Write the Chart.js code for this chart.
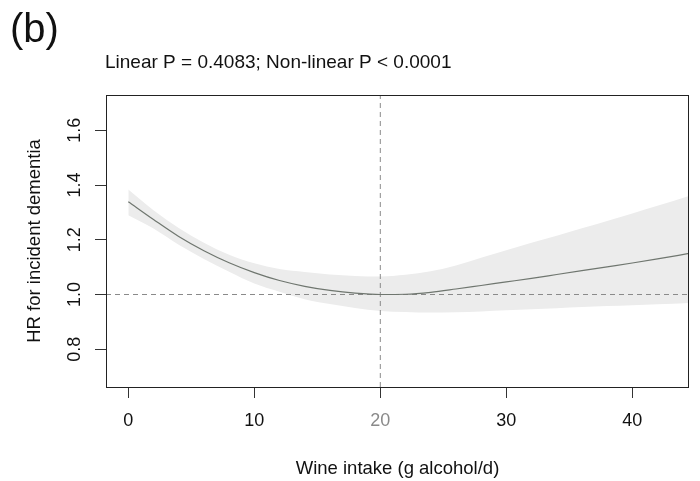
<!DOCTYPE html>
<html>
<head>
<meta charset="utf-8">
<script src="https://cdn.jsdelivr.net/npm/chart.js@4.4.1/dist/chart.umd.min.js"></script>
<style>
  html, body { margin: 0; padding: 0; background: #fff; }
  canvas { display: block; }
</style>
</head>
<body>
<canvas id="hrChart" width="700" height="481"></canvas>
<script>
// spline HR for incident dementia by wine intake, with 95% CI
const intake  = [0, 2, 4, 6, 8, 10, 12, 14, 16, 18, 20, 22, 24, 26, 28, 30, 32, 34, 36, 38, 40, 42, 44.5];
const hr      = [1.339, 1.274, 1.212, 1.160, 1.116, 1.080, 1.051, 1.030, 1.015, 1.005, 1.000, 1.001, 1.008, 1.020, 1.033, 1.046, 1.059, 1.073, 1.087, 1.101, 1.115, 1.130, 1.150];
const hrUpper = [1.384, 1.308, 1.243, 1.189, 1.145, 1.114, 1.093, 1.082, 1.073, 1.068, 1.066, 1.072, 1.085, 1.106, 1.134, 1.162, 1.189, 1.215, 1.242, 1.269, 1.296, 1.324, 1.360];
const hrLower = [1.290, 1.241, 1.182, 1.130, 1.083, 1.040, 1.010, 0.983, 0.965, 0.951, 0.940, 0.936, 0.934, 0.935, 0.938, 0.942, 0.946, 0.950, 0.954, 0.958, 0.961, 0.964, 0.969];

const xTicks = [0, 10, 20, 30, 40];
const yTicks = [0.8, 1.0, 1.2, 1.4, 1.6];
const refIntake = 20;
const refHR = 1;
const xRange = [-1.77, 44.5];
const yRange = [0.662, 1.729];

const fontFamily = "'Liberation Sans', Arial, Helvetica, sans-serif";
const toPoints = ys => intake.map((x, i) => ({ x: x, y: ys[i] }));

// box around the plot region + panel letter and p-values
const framePlugin = {
    id: 'frame',
    afterDraw(chart) {
        const { ctx, chartArea: a } = chart;
        ctx.save();
        ctx.strokeStyle = '#222';
        ctx.lineWidth = 1;
        ctx.strokeRect(a.left + 0.5, a.top + 0.5, a.right - a.left - 1, a.bottom - a.top);
        ctx.fillStyle = '#111';
        ctx.textBaseline = 'alphabetic';
        ctx.font = '40px ' + fontFamily;
        ctx.fillText('(b)', 10, 42);
        ctx.font = '19px ' + fontFamily;
        ctx.fillText('Linear P = 0.4083; Non-linear P < 0.0001', 105, 68);
        ctx.restore();
    }
};

const ctx = document.getElementById('hrChart').getContext('2d');

new Chart(ctx, {
    type: 'scatter',
    data: {
        datasets: [
            {
                label: 'HR',
                data: toPoints(hr),
                showLine: true,
                borderColor: '#6f766f',
                borderWidth: 1.2,
                pointRadius: 0,
                cubicInterpolationMode: 'monotone'
            },
            {
                label: 'HR = 1',
                data: [{ x: xRange[0], y: refHR }, { x: xRange[1], y: refHR }],
                showLine: true,
                borderColor: '#8a8a8a',
                borderWidth: 1,
                borderDash: [5, 4],
                pointRadius: 0
            },
            {
                label: 'reference intake',
                data: [{ x: refIntake, y: yRange[0] }, { x: refIntake, y: yRange[1] }],
                showLine: true,
                borderColor: '#8a8a8a',
                borderWidth: 1,
                borderDash: [5, 4],
                pointRadius: 0
            },
            {
                label: 'upper CI',
                data: toPoints(hrUpper),
                showLine: true,
                borderWidth: 0,
                borderColor: 'rgba(0,0,0,0)',
                backgroundColor: '#ececec',
                pointRadius: 0,
                cubicInterpolationMode: 'monotone',
                fill: '+1'
            },
            {
                label: 'lower CI',
                data: toPoints(hrLower),
                showLine: true,
                borderWidth: 0,
                borderColor: 'rgba(0,0,0,0)',
                pointRadius: 0,
                cubicInterpolationMode: 'monotone',
                fill: false
            }
        ]
    },
    options: {
        responsive: false,
        animation: false,
        layout: { padding: { left: 0, top: 95, right: 11, bottom: 0 } },
        plugins: {
            legend: { display: false },
            tooltip: { enabled: false }
        },
        scales: {
            x: {
                type: 'linear',
                min: xRange[0],
                max: xRange[1],
                afterBuildTicks: s => { s.ticks = xTicks.map(v => ({ value: v })); },
                afterFit: s => { s.height = 94; },
                border: { display: false },
                grid: { drawOnChartArea: false, drawTicks: true, tickLength: 11, color: '#333', lineWidth: 1 },
                ticks: {
                    padding: 12,
                    maxRotation: 0,
                    color: c => (c.tick && c.tick.value === refIntake ? '#8a8a8a' : '#111'),
                    font: { family: fontFamily, size: 18 },
                    callback: v => String(v)
                },
                title: {
                    display: true,
                    text: 'Wine intake (g alcohol/d)',
                    color: '#111',
                    font: { family: fontFamily, size: 18.5 },
                    padding: { top: 0, bottom: 1 }
                }
            },
            y: {
                type: 'linear',
                min: yRange[0],
                max: yRange[1],
                afterBuildTicks: s => { s.ticks = yTicks.map(v => ({ value: v })); },
                afterFit: s => { s.width = 106; },
                border: { display: false },
                grid: { drawOnChartArea: false, drawTicks: true, tickLength: 11, color: '#333', lineWidth: 1 },
                ticks: {
                    padding: 7,
                    minRotation: 90,
                    maxRotation: 90,
                    crossAlign: 'center',
                    color: '#111',
                    font: { family: fontFamily, size: 18 },
                    callback: v => v.toFixed(1)
                },
                title: {
                    display: true,
                    text: 'HR for incident dementia',
                    color: '#111',
                    font: { family: fontFamily, size: 18.5 },
                    padding: { top: 24, bottom: 0 }
                }
            }
        }
    },
    plugins: [framePlugin]
});
</script>
</body>
</html>
